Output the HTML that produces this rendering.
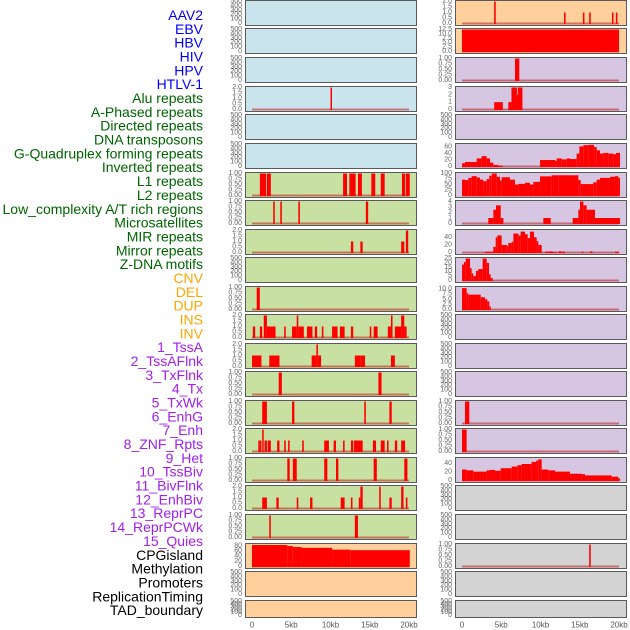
<!DOCTYPE html>
<html><head><meta charset="utf-8">
<style>
html,body{margin:0;padding:0;background:#fff;}
svg{display:block;font-family:"Liberation Sans",sans-serif;}
</style></head>
<body>
<svg id="chart" width="630" height="630" viewBox="0 0 630 630"></svg>
<script>
// ---------- data ----------
const trackLabels = ["AAV2","EBV","HBV","HIV","HPV","HTLV-1","Alu repeats","A-Phased repeats","Directed repeats","DNA transposons","G-Quadruplex forming repeats","Inverted repeats","L1 repeats","L2 repeats","Low_complexity A/T rich regions","Microsatellites","MIR repeats","Mirror repeats","Z-DNA motifs","CNV","DEL","DUP","INS","INV","1_TssA","2_TssAFlnk","3_TxFlnk","4_Tx","5_TxWk","6_EnhG","7_Enh","8_ZNF_Rpts","9_Het","10_TssBiv","11_BivFlnk","12_EnhBiv","13_ReprPC","14_ReprPCWk","15_Quies","CPGisland","Methylation","Promoters","ReplicationTiming","TAD_boundary"];
const labelGroups = [6,13,5,15,5];
const xTickValues = [0,5,10,15,20];
const xTickLabels = ["0","5kb","10kb","15kb","20kb"];
const emptyTicks = [0,100,200,300,400,500];

// left column bars [startKb, endKb, value]
const L3_bars = [[10.0,10.15,2]];
const L6_bars = [[1.0,1.8,1],[1.9,2.4,1],[11.6,12.1,1],[12.4,13.2,1],[13.5,14.0,1],[15.2,15.7,1],[16.4,16.9,1],[19.1,19.5,1],[19.6,20.1,1]];
const L7_bars = [[2.7,2.9,1],[3.6,3.8,1],[5.9,6.1,1],[14.5,14.8,1]];
const L8_bars = [[12.6,12.9,1],[13.8,14.1,1],[19.0,19.4,1],[19.6,19.9,2]];
const L10_bars = [[0.6,1.0,1]];
const L11_bars = [[0.1,0.4,1],[1.0,1.3,1],[1.5,1.9,2],[1.9,3.0,1],[4.1,4.3,1],[5.1,5.7,1],[5.7,5.9,2],[5.9,6.6,1],[7.0,7.7,1],[8.0,8.3,1],[8.9,9.1,1],[10.2,10.9,1],[11.2,11.8,1],[12.6,12.9,1],[15.0,15.2,1],[15.5,16.0,1],[17.3,17.7,1],[17.7,17.9,2],[18.2,19.0,1],[19.0,19.4,2],[19.4,19.7,1]];
const L12_bars = [[0,1.2,1],[2.2,3.5,1],[7.6,8.2,1],[8.2,8.4,2],[8.4,8.8,1],[13.1,13.8,1],[13.8,14.4,1],[17.7,18.2,1]];
const L13_bars = [[3.4,3.8,1],[16.1,16.5,1]];
const L14_bars = [[1.3,1.9,1],[5.1,5.4,1],[14.3,14.5,1],[17.5,17.8,1]];
const L15_bars = [[0.8,1.0,1],[1.0,1.2,1],[1.3,1.4,2],[1.6,1.9,1],[2.0,2.4,1],[3.2,3.5,1],[4.1,4.3,1],[4.6,4.8,1],[6.4,6.6,1],[9.2,9.8,1],[10.4,10.7,1],[11.6,11.8,1],[12.6,12.9,1],[13.0,13.5,1],[13.5,14.1,1],[15.4,15.8,1],[16.4,16.9,1],[17.2,17.4,1],[18.2,18.5,1],[19.0,19.5,1]];
const L16_bars = [[4.5,4.8,1],[5.2,5.7,1],[9.2,9.6,1],[10.7,11.0,1],[15.5,15.9,1],[19.4,19.8,1]];
const L17_bars = [[1.3,1.9,1],[3.1,3.4,1],[5.7,5.9,1],[7.4,7.7,1],[11.3,11.8,1],[12.6,12.8,1],[13.6,13.8,1],[13.8,14.1,2],[16.2,16.4,2],[17.5,17.8,1],[19.0,19.3,2],[19.6,19.8,1]];
const L18_bars = [[2.2,2.4,1],[13.1,13.5,1]];
const L19_edges = [0,4.5,5.2,6.3,10.2,12.5,20.1];
const L19_vals = [83,79,75,72,65,63];

// right column
const R0_bars = [[4.1,4.3,2],[13.0,13.2,1],[15.4,15.6,1],[16.2,16.4,1],[19.1,19.3,1],[19.6,19.8,1]];
const R1_bars = [[0,20.0,12.5]];
const R2_bars = [[6.75,7.3,1]];
const R3_bars = [[4.1,5.2,1],[5.9,6.3,1],[6.3,7.0,3],[7.0,7.1,2],[7.1,7.7,3]];
const R5_edges = [0,0.38,1.87,2.5,3.14,3.57,3.99,4.63,5.18,9.94,11.85,12.06,12.7,13.33,13.76,14.61,14.95,15.46,16.09,16.82,17.16,17.58,18.0,18.64,19.28,19.62,20.13];
const R5_vals = [10,14,25,32,25,12,5,3,0,20,18,25,22,25,23,40,62,66,67,60,50,40,42,40,38,42];
const R6_edges = [0,0.38,0.81,1.23,1.87,2.29,2.72,3.14,3.48,3.78,4.42,4.84,5.05,6.11,6.75,7.18,8.03,8.66,9.09,9.94,11.42,12.27,14.82,15.12,16.31,16.73,17.16,17.58,18.85,19.49,19.92,20.13];
const R6_vals = [72,70,80,88,82,72,65,75,90,100,85,68,83,72,50,53,58,50,62,87,92,92,70,52,52,60,72,80,85,88,80];
const R7_bars = [[3.35,3.99,1],[3.99,4.33,2.5],[4.33,4.93,3.3],[4.93,5.27,1],[10.36,11.3,1],[14.1,14.82,1],[14.82,15.03,2.5],[15.03,15.46,4],[15.46,15.88,3.3],[15.88,16.94,2.5],[16.94,20.13,1]];
const R8_edges = [2.93,3.99,4.29,4.5,5.05,5.69,5.9,6.33,6.54,7.18,7.47,8.03,8.37,8.66,9.17,9.51,9.72,10.15];
const R8_vals = [2,15,40,45,20,18,25,28,50,45,55,48,38,55,40,30,20];
const R8_bars = [[10.57,11.0,2],[11.0,11.55,3],[11.55,12.06,1],[12.27,12.7,3],[12.7,13.12,2],[15.24,15.46,2],[16.31,16.6,3],[19.49,20.04,2]];
const R9_edges = [0,0.25,0.47,1.02,1.23,1.44,1.78,2.08,2.63,3.14,3.44,3.65,3.9];
const R9_vals = [18,21,25,14,8,5,11,13,25,20,7,3];
const R10_edges = [0,0.59,0.81,2.38,2.93,3.23,3.48,3.57];
const R10_vals = [10.5,8,7.3,6,5,4,1.5];
const R14_bars = [[0.38,0.93,1]];
const R15_bars = [[0,0.59,1]];
const R16_edges = [0,0.59,1.44,3.14,3.57,4.2,4.93,6.33,7.05,7.6,8.87,9.43,9.72,10.15,11.0,11.85,13.76,15.24,15.67,19.07,19.92,20.13];
const R16_vals = [26,24,21,24,25,23,29,33,36,39,44,47,50,26,24,21,16,15,12,9,5];
const R19_bars = [[16.2,16.4,1]];

// ---------- layout ----------
const NS = "http://www.w3.org/2000/svg";
const svg = document.getElementById("chart");
const rowTop = [0,28,57,86,114,143,172,200,229,257,286,314,343,371,400,428,457,485,514,543,571,600];
const colLeft = [245,455];
const panelW = 171;
const pxPerKb = 7.85;
const dataX0 = [252,462];
const BLUE="#c9e4ec", GREEN="#c8e1a2", ORANGE="#ffd09c", LAV="#d6c6e2", GRAY="#d3d3d3";
const u01 = [0,0.25,0.5,0.75,1.0], u01l=["0.00","0.25","0.50","0.75","1.00"];
const u2 = [0,0.5,1,1.5,2], u2l=["0.0","0.5","1.0","1.5","2.0"];

function steps(edges, vals){ const out=[]; for(let i=0;i<vals.length;i++){ if(vals[i]>0) out.push([edges[i],edges[i+1],vals[i]]); } return out; }

const panels = [];
function P(col,row,bg,yMax,ticks,tickLabels,bars){ panels.push({col,row,bg,yMax,ticks,tickLabels,bars}); }
for(let r=0;r<22;r++){
  const lbg = r<6?BLUE:(r<19?GREEN:ORANGE);
  const rbg = r<2?ORANGE:(r<17?LAV:GRAY);
  panels.push({col:0,row:r,bg:lbg,empty:true});
  panels.push({col:1,row:r,bg:rbg,empty:true});
}
function setP(col,row,yMax,ticks,labels,bars){ const p=panels.find(q=>q.col===col&&q.row===row); p.empty=false;p.yMax=yMax;p.ticks=ticks;p.tickLabels=labels;p.bars=bars; }
setP(0,3,2,u2,u2l,L3_bars);
setP(0,6,1,u01,u01l,L6_bars);
setP(0,7,1,u01,u01l,L7_bars);
setP(0,8,2,u2,u2l,L8_bars);
setP(0,10,1,u01,u01l,L10_bars);
setP(0,11,2,u2,u2l,L11_bars);
setP(0,12,2,u2,u2l,L12_bars);
setP(0,13,1,u01,u01l,L13_bars);
setP(0,14,1,u01,u01l,L14_bars);
setP(0,15,2,u2,u2l,L15_bars);
setP(0,16,1,u01,u01l,L16_bars);
setP(0,17,2,u2,u2l,L17_bars);
setP(0,18,1,u01,u01l,L18_bars);
setP(0,19,85,[0,20,40,60,80],["0","20","40","60","80"],steps(L19_edges,L19_vals));
setP(1,0,2,u2,u2l,R0_bars);
setP(1,1,12.5,[0,2.5,5,7.5,10,12.5],["0.0","2.5","5.0","7.5","10.0","12.5"],R1_bars);
setP(1,2,1,u01,u01l,R2_bars);
setP(1,3,3,[0,1,2,3],["0","1","2","3"],R3_bars);
setP(1,5,68,[0,20,40,60],["0","20","40","60"],steps(R5_edges,R5_vals));
setP(1,6,100,[0,25,50,75,100],["0","25","50","75","100"],steps(R6_edges,R6_vals));
setP(1,7,4,[0,1,2,3,4],["0","1","2","3","4"],R7_bars);
setP(1,8,58,[0,20,40],["0","20","40"],steps(R8_edges,R8_vals).concat(R8_bars));
setP(1,9,25,[0,5,10,15,20,25],["0","5","10","15","20","25"],steps(R9_edges,R9_vals));
setP(1,10,10.8,[0,2.5,5,7.5,10],["0.0","2.5","5.0","7.5","10.0"],steps(R10_edges,R10_vals));
setP(1,14,1,u01,u01l,R14_bars);
setP(1,15,1,u01,u01l,R15_bars);
setP(1,16,52,[0,20,40],["0","20","40"],steps(R16_edges,R16_vals));
setP(1,19,1,u01,u01l,R19_bars);

function mk(tag, attrs){ const e=document.createElementNS(NS,tag); for(const k in attrs) e.setAttribute(k,attrs[k]); return e; }

// labels
let li=0; const groupColors=["#0000ff","#006400","#ffa500","#a020f0","#000000"];
labelGroups.forEach((n,g)=>{ for(let k=0;k<n;k++){
  const t=mk("text",{x:203,y:15+li*13.84,"text-anchor":"end","dominant-baseline":"central","font-size":"14",fill:groupColors[g]});
  
  
  t.textContent=trackLabels[li]; svg.appendChild(t); li++; }});

panels.forEach(p=>{
  const g=mk("g",{});
  
  
  const top=rowTop[p.row], h=p.row===21?17:25, left=colLeft[p.col];
  const rect=mk("rect",{x:left+0.5,y:top+0.5,width:panelW,height:h,fill:p.bg,stroke:"#5a5a5a","stroke-width":1});
  
  
  g.appendChild(rect);
  const y0=top+h-1.5, y1=top+1.5;
  const ticks=p.empty?emptyTicks:p.ticks, tl=p.empty?emptyTicks.map(String):p.tickLabels, yMax=p.empty?500:p.yMax;
  const yS=v=>y0-(v/yMax)*(y0-y1);
  ticks.forEach((v,i)=>{
    const t=mk("text",{x:left-3,y:yS(v),"text-anchor":"end","dominant-baseline":"central","font-size":"7",fill:"#666"});
    
    
    t.textContent=tl[i]; g.appendChild(t);
  });
  if(!p.empty){
    const xS=kb=>dataX0[p.col]+kb*pxPerKb;
    const base=mk("line",{x1:xS(0),x2:xS(20),y1:y0,y2:y0,stroke:"rgba(190,30,30,0.55)","stroke-width":2});
    
    
    g.appendChild(base);
    p.bars.forEach(b=>{
      const x=xS(b[0]), w=Math.max(1.5,xS(b[1])-x), yt=yS(b[2]);
      const r=mk("rect",{x:x,y:yt,width:w,height:y0-yt+0.5,fill:"#ff0000"});
      
      
      g.appendChild(r);
    });
  }
  svg.appendChild(g);
});

// x axes
[0,1].forEach(c=>{
  xTickValues.forEach((v,i)=>{
    const t=mk("text",{x:dataX0[c]+v*pxPerKb,y:625,"text-anchor":"middle","dominant-baseline":"central","font-size":"8",fill:"#555"});
    
    
    t.textContent=xTickLabels[i]; svg.appendChild(t);
  });
});
</script>
</body></html>
